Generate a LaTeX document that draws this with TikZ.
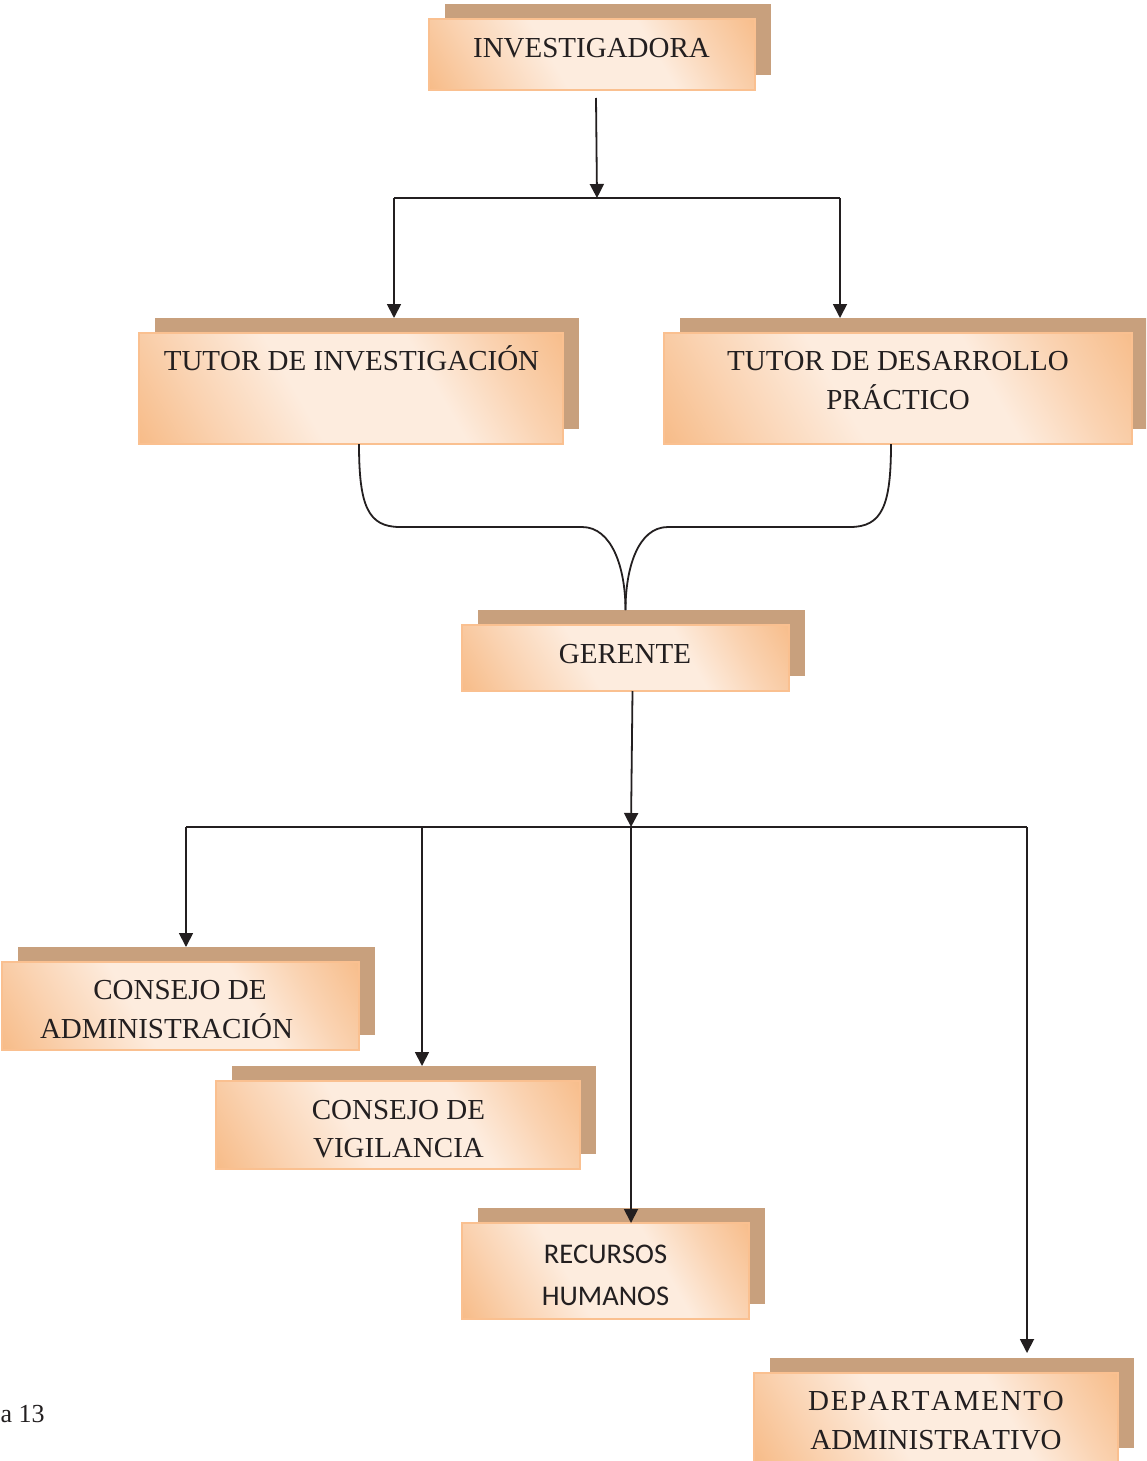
\documentclass[tikz,border=0pt]{standalone}
\usepackage{fontspec}
\setmainfont[Kerning=Off]{Liberation Serif}
\newfontfamily\calibrifont[Kerning=Off]{Carlito}
\usetikzlibrary{arrows.meta}

\definecolor{shadowbrown}{RGB}{200,160,125}
\definecolor{peachedge}{RGB}{250,192,144}
\definecolor{peachdeep}{RGB}{247,188,137}
\definecolor{peachmid}{RGB}{250,211,178}
\definecolor{peachlight}{RGB}{253,236,222}
\definecolor{inkgray}{RGB}{35,31,32}

% diagonal peach gradient of the front plates (deep corners, wide light band)
\pgfdeclarehorizontalshading{peachglow}{100bp}{%
  color(0bp)=(peachdeep); color(16bp)=(peachdeep); color(28bp)=(peachmid);
  color(42bp)=(peachlight); color(62bp)=(peachlight); color(73bp)=(peachmid);
  color(85bp)=(peachdeep); color(100bp)=(peachdeep)}

\tikzset{
  backplate/.style={fill=shadowbrown, inner sep=0pt, outer sep=0pt, rectangle},
  frontplate/.style={shading=peachglow, shading angle=30, draw=peachedge,
    line width=2pt, inner sep=0pt, outer sep=0pt, rectangle},
  lbl/.style={font=\fontsize{29}{34}\selectfont, text=inkgray, inner sep=0pt, anchor=base},
  lblsans/.style={font=\calibrifont\fontsize{28.5}{34}\selectfont, text=inkgray, inner sep=0pt, anchor=base},
  wire/.style={line width=1.8pt, draw=inkgray},
  arr/.style={wire, -{Triangle[length=14pt,width=14pt]}},
}

% \orgbox{name}{x1}{y1}{x2}{y2}: front plate with its offset back plate
\newcommand\orgbox[5]{%
  \node[backplate, minimum width={(#4-#2)*1pt}, minimum height={(#5-#3)*1pt}]
    (#1-s) at ({(#2+#4)/2+16},{(#3+#5)/2-15}) {};
  \node[frontplate, minimum width={(#4-#2)*1pt}, minimum height={(#5-#3)*1pt}]
    (#1) at ({(#2+#4)/2},{(#3+#5)/2}) {};
}
% slightly tracked letters
\newcommand\tr{\kern1.7pt\relax}

\begin{document}
\begin{tikzpicture}[x=1pt, y=-1pt]
\useasboundingbox (0,0) rectangle (1146,1461);
\fill[white] (0,0) rectangle (1146,1461);
\clip (0,0) rectangle (1146,1461);

% plates
\orgbox{inv}{429}{19}{755}{90}
\orgbox{tinv}{139}{333}{563}{444}
\orgbox{tdes}{664}{333}{1132}{444}
\orgbox{ger}{462}{625}{789}{691}
\orgbox{cadm}{2}{962}{359}{1050}
\orgbox{cvig}{216}{1081}{580}{1169}
\orgbox{rrhh}{462}{1223}{749}{1319}
\orgbox{dadm}{754}{1373}{1118}{1463}

% labels
\node[lbl] (inv-t) at (591.5,57.5) {INVESTIGADORA};
\node[lbl] (tinv-t) at (351.5,370.5) {TUTOR DE INVESTIGACIÓN};
\node[lbl] (tdes-t1) at (898,370.5) {TUTOR DE DESARROLLO};
\node[lbl] (tdes-t2) at (898,409.5) {PRÁCTICO};
\node[lbl] (ger-t) at (625,663.5) {GERENTE};
\node[lbl] (cadm-t1) at (180,999.5) {CONSEJO DE};
\node[lbl] (cadm-t2) at (166.5,1038.5) {ADMINISTRACIÓN};
\node[lbl] (cvig-t1) at (398.5,1119.5) {CONSEJO DE};
\node[lbl] (cvig-t2) at (398.5,1157.5) {VIGILANCIA};
\node[lblsans] (rrhh-t1) at (605.5,1263) {RECURSOS};
\node[lblsans] (rrhh-t2) at (605.5,1305) {HUMANOS};
\node[lbl] (dadm-t1) at (936,1410.5) {D\tr E\tr P\tr A\tr R\tr T\tr A\tr M\tr E\tr N\tr T\tr O};
\node[lbl] (dadm-t2) at (936,1449.5) {ADMINISTRATIVO};
\node[lbl, anchor=base west, font=\fontsize{26}{30}\selectfont] (fig-cap) at (0.5,1422) {a 13};

% first split: investigadora to both tutors
\coordinate (split1) at (597,198);
\coordinate (split1-l) at (394,198);
\coordinate (split1-r) at (840,198);
\draw[arr] ([xshift=4pt,yshift=-8pt]inv.south) -- (split1);
\draw[wire] (split1-l) -- (split1-r);
\draw[arr] (split1-l) -- (split1-l |- tinv-s.north);
\draw[arr] (split1-r) -- (split1-r |- tdes-s.north);

% tutors merging into gerente
\coordinate (merge) at (ger.center |- ger-s.north);
\coordinate (bendL1) at (400,527);
\coordinate (bendL2) at (582,527);
\coordinate (bendR1) at (850,527);
\coordinate (bendR2) at (668,527);
\draw[wire] ([xshift=8pt]tinv.south) .. controls +(0,62) and +(-32,0) .. (bendL1)
  -- (bendL2) .. controls +(30,0) and +(0,-42) .. (merge);
\draw[wire] ([xshift=-7pt]tdes.south) .. controls +(0,62) and +(32,0) .. (bendR1)
  -- (bendR2) .. controls +(-30,0) and +(0,-42) .. (merge);

% second split: gerente to the four departments
\coordinate (split2) at (631,827);
\coordinate (split2-a) at (186,827);
\coordinate (split2-b) at (422,827);
\coordinate (split2-d) at (1027,827);
\draw[arr] ([xshift=7pt]ger.south) -- (split2);
\draw[wire] (split2-a) -- (split2-d);
\draw[arr] (split2-a) -- (split2-a |- cadm-s.north);
\draw[arr] (split2-b) -- (split2-b |- cvig-s.north);
\draw[arr] (split2) -- (split2 |- rrhh.north);
\draw[arr] (split2-d) -- ([yshift=5pt]split2-d |- dadm-s.north);
\end{tikzpicture}
\end{document}
